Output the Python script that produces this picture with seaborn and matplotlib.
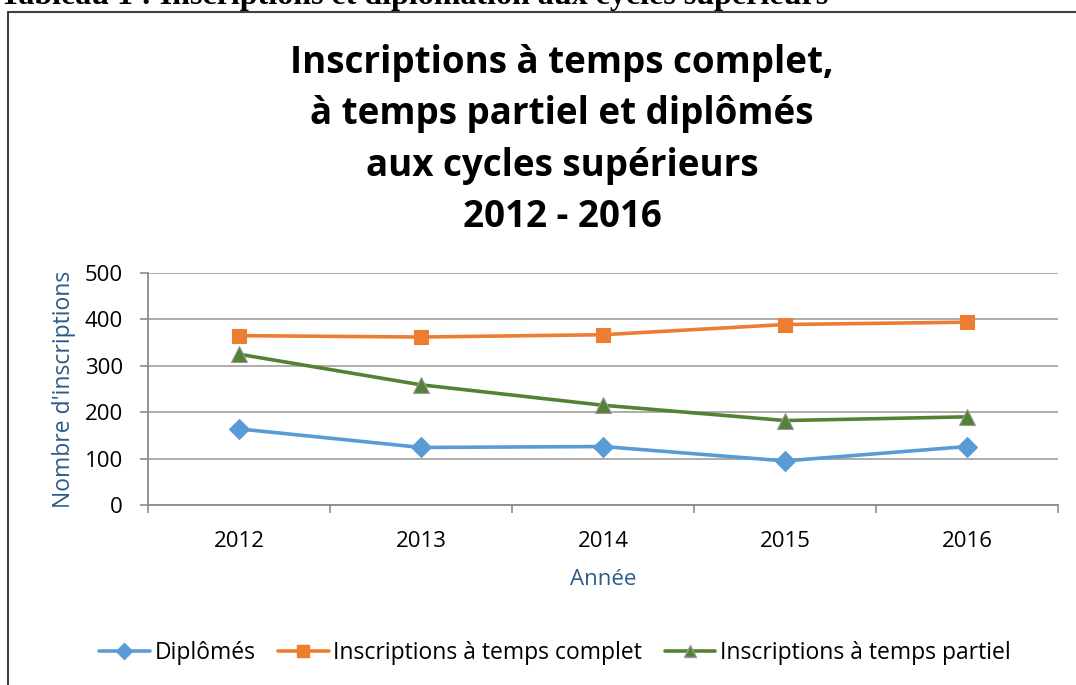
import matplotlib
matplotlib.use("Agg")
import matplotlib.pyplot as plt
import seaborn as sns
import pandas as pd
from matplotlib.lines import Line2D

# data
annees = [2012, 2013, 2014, 2015, 2016]
diplomes = [164, 124, 126, 95, 126]
temps_complet = [365, 362, 367, 389, 394]
temps_partiel = [325, 259, 215, 182, 190]

series = ["Diplômés", "Inscriptions à temps complet", "Inscriptions à temps partiel"]
couleurs = {"Diplômés": "#5B9BD5",
            "Inscriptions à temps complet": "#ED7D31",
            "Inscriptions à temps partiel": "#548235"}
marqueurs = {"Diplômés": "D",
             "Inscriptions à temps complet": "s",
             "Inscriptions à temps partiel": "^"}
bords = {"Diplômés": "#5B9BD5",
         "Inscriptions à temps complet": "#ED7D31",
         "Inscriptions à temps partiel": "#9A9A9A"}

df = pd.DataFrame({
    "Année": annees * 3,
    "valeur": diplomes + temps_complet + temps_partiel,
    "serie": [s for s in series for _ in annees],
})

sns.set_style("white")
plt.rcParams["font.family"] = ["Open Sans", "DejaVu Sans"]
plt.rcParams["text.color"] = "black"
plt.rcParams["xtick.color"] = "black"
plt.rcParams["ytick.color"] = "black"

fig = plt.figure(figsize=(10.76, 6.85), dpi=100)
ax = fig.add_axes([148 / 1076, 1 - 505 / 685, 910 / 1076, 232 / 685])

sns.lineplot(data=df, x="Année", y="valeur", hue="serie", style="serie",
             palette=couleurs, markers=marqueurs, dashes=False,
             linewidth=2.6, markersize=10, ax=ax, legend=False)
for ln, s in zip(ax.lines, series):
    ln.set_markeredgecolor(bords[s])
    ln.set_markeredgewidth(0.8)
    ln.set_zorder(3)
    if s == "Inscriptions à temps partiel":
        ln.set_markersize(11)

ax.set_xlim(annees[0] - 0.5, annees[-1] + 0.5)
ax.set_ylim(0, 500)
ax.set_yticks(range(0, 501, 100))
ax.set_xticks(annees)
ax.set_xticks([a - 0.5 for a in annees] + [annees[-1] + 0.5], minor=True)
ax.grid(axis="y", color="#A6A6A6", linewidth=1.3)
ax.set_axisbelow(True)
for side in ["top", "right"]:
    ax.spines[side].set_visible(False)
for side in ["left", "bottom"]:
    ax.spines[side].set_color("#8C8C8C")
    ax.spines[side].set_linewidth(1.3)
ax.tick_params(axis="y", which="major", length=6, width=1.2, color="#8C8C8C",
               pad=12, labelsize=16, left=True, labelcolor="black")
ax.tick_params(axis="x", which="major", length=0, pad=19, labelsize=16,
               labelcolor="black")
ax.tick_params(axis="x", which="minor", length=6, width=1.2, color="#8C8C8C",
               bottom=True)
ax.set_xlabel("Année", fontsize=16, color="#2B5B8A", labelpad=12)
ax.set_ylabel("Nombre d'inscriptions", fontsize=16.5, color="#2B5B8A", labelpad=6)

fig.text(562 / 1076, 1 - 140 / 685,
         "Inscriptions à temps complet,\nà temps partiel et diplômés\naux cycles supérieurs\n2012 - 2016",
         ha="center", va="center", fontsize=26.5, fontweight="bold", linespacing=1.45,
         color="black")

handles = [Line2D([], [], color=couleurs[s], marker=marqueurs[s], linewidth=2.6,
                  markersize=8, markeredgecolor=bords[s])
           for s in series]
fig.legend(handles, series, loc="center", bbox_to_anchor=(555 / 1076, 1 - 653 / 685),
           ncol=3, frameon=False, fontsize=16.5, handlelength=2.2, columnspacing=1.0,
           handletextpad=0.2)

# document frame and clipped caption above it
fig.add_artist(Line2D([8 / 1076, 1], [1 - 11.5 / 685] * 2, color="#404040", linewidth=1.5))
fig.add_artist(Line2D([8 / 1076] * 2, [1 - 11.5 / 685, 0], color="#404040", linewidth=1.5))
fig.text(0, 1 - 4 / 685, "Tableau 1 : Inscriptions et diplomation aux cycles supérieurs",
         ha="left", va="baseline", fontsize=23, fontweight="bold", color="black",
         family=["Liberation Serif", "DejaVu Serif"])

fig.savefig("out.png", dpi=100)
